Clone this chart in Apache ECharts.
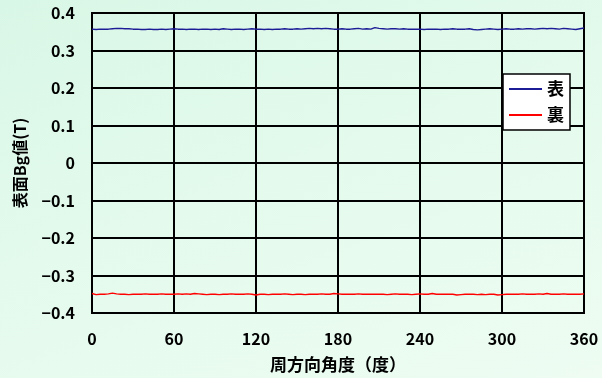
<!DOCTYPE html>
<html><head><meta charset="utf-8">
<script src="https://cdn.jsdelivr.net/npm/echarts@6/dist/echarts.min.js"></script>
<style>html,body{margin:0;padding:0;}#c{width:602px;height:378px;background:linear-gradient(160deg,#d9f7e6 0%,#e6fbee 60%,#eefcf2 100%);}</style>
</head><body><div id="c"></div>
<script>
var angles = [0,3,6,9,12,15,18,21,24,27,30,33,36,39,42,45,48,51,54,57,60,63,66,69,72,75,78,81,84,87,90,93,96,99,102,105,108,111,114,117,120,123,126,129,132,135,138,141,144,147,150,153,156,159,162,165,168,171,174,177,180,183,186,189,192,195,198,201,204,207,210,213,216,219,222,225,228,231,234,237,240,243,246,249,252,255,258,261,264,267,270,273,276,279,282,285,288,291,294,297,300,303,306,309,312,315,318,321,324,327,330,333,336,339,342,345,348,351,354,357,360];
var omote = [
.357,.356,.357,.357,.357,.358,.359,.359,.358,.358,
.357,.357,.356,.356,.357,.356,.356,.357,.356,.357,
.358,.357,.357,.356,.357,.357,.356,.357,.357,.356,
.357,.356,.358,.357,.356,.357,.357,.356,.357,.358,
.357,.357,.356,.357,.356,.357,.357,.358,.357,.357,
.358,.357,.358,.359,.358,.359,.358,.359,.358,.357,
.357,.358,.357,.357,.358,.359,.357,.358,.357,.361,
.359,.358,.357,.358,.358,.357,.358,.357,.357,.357,
.357,.356,.357,.357,.357,.356,.357,.357,.358,.357,
.357,.357,.358,.356,.355,.356,.357,.358,.357,.356,
.357,.358,.357,.357,.358,.357,.358,.358,.357,.358,
.359,.358,.359,.358,.357,.359,.358,.357,.356,.358,
.360];
var ura = [
-.348,-.351,-.350,-.350,-.349,-.347,-.349,-.350,-.350,-.351,
-.350,-.350,-.350,-.349,-.350,-.350,-.350,-.349,-.350,-.350,
-.350,-.349,-.350,-.349,-.350,-.348,-.349,-.350,-.351,-.350,
-.350,-.351,-.350,-.350,-.349,-.350,-.350,-.350,-.349,-.350,
-.352,-.350,-.350,-.351,-.350,-.350,-.350,-.349,-.350,-.351,
-.350,-.350,-.351,-.350,-.350,-.350,-.349,-.350,-.350,-.348,
-.349,-.350,-.350,-.350,-.350,-.349,-.350,-.350,-.350,-.350,
-.350,-.350,-.351,-.350,-.349,-.350,-.350,-.350,-.351,-.350,
-.349,-.350,-.350,-.348,-.350,-.350,-.350,-.350,-.350,-.352,
-.351,-.350,-.350,-.350,-.351,-.350,-.351,-.350,-.350,-.352,
-.351,-.350,-.350,-.350,-.350,-.349,-.350,-.350,-.350,-.349,
-.350,-.348,-.350,-.350,-.350,-.349,-.350,-.350,-.350,-.350,
-.349];
var seriesNames = ['表','裏'];
var xName = '周方向角度（度）';
var yName = '表面Bg値(T)';

function pairs(xs, ys){ var r=[]; for(var i=0;i<xs.length;i++) r.push([xs[i], ys[i]]); return r; }
var FONT = '"Noto Sans CJK JP", sans-serif';
var chart = echarts.init(document.getElementById('c'), null, {renderer:'canvas'});
chart.setOption({
  animation:false,
  backgroundColor:'transparent',
  grid:{left:92,right:18,top:13,bottom:64,show:true,borderColor:'#000',borderWidth:2,backgroundColor:'transparent'},
  legend:{
    orient:'vertical', left:503, top:74, width:72,
    backgroundColor:'#fff', borderColor:'#000', borderWidth:1.5,
    padding:[5,6,5,6], itemGap:6, itemWidth:33, itemHeight:2,
    icon:'rect',
    textStyle:{fontFamily:FONT, fontWeight:'bold', fontSize:17, color:'#000', lineHeight:20},
    data:seriesNames
  },
  xAxis:{
    type:'value', min:0, max:360, interval:60,
    name:xName, nameLocation:'middle', nameGap:43,
    nameTextStyle:{fontFamily:FONT, fontWeight:'bold', fontSize:17, color:'#000'},
    axisLine:{show:true, onZero:false, lineStyle:{color:'#000',width:2}},
    axisTick:{show:false},
    splitLine:{show:true, lineStyle:{color:'#000',width:2}},
    axisLabel:{margin:18, fontFamily:FONT, fontWeight:'bold', fontSize:16, color:'#000'}
  },
  yAxis:{
    type:'value', min:-0.4, max:0.4, interval:0.1,
    name:yName, nameLocation:'middle', nameGap:64, nameRotate:90,
    nameTextStyle:{fontFamily:FONT, fontWeight:'bold', fontSize:16, color:'#000'},
    axisLine:{show:true, lineStyle:{color:'#000',width:2}},
    axisTick:{show:false},
    splitLine:{show:true, lineStyle:{color:'#000',width:2}},
    axisLabel:{margin:17, fontFamily:FONT, fontWeight:'bold', fontSize:16, color:'#000',
      formatter:function(v){ var s = Math.round(v*10)/10; return s===0 ? '0' : String(s).replace('-','\u2212'); }}
  },
  series:[
    {name:seriesNames[0], type:'line', data:pairs(angles, omote), showSymbol:false, symbol:'none',
     lineStyle:{color:'#1c1c96', width:1.5}, itemStyle:{color:'#1c1c96'}},
    {name:seriesNames[1], type:'line', data:pairs(angles, ura), showSymbol:false, symbol:'none',
     lineStyle:{color:'#ff0000', width:1.5}, itemStyle:{color:'#ff0000'}}
  ]
});
</script></body></html>
